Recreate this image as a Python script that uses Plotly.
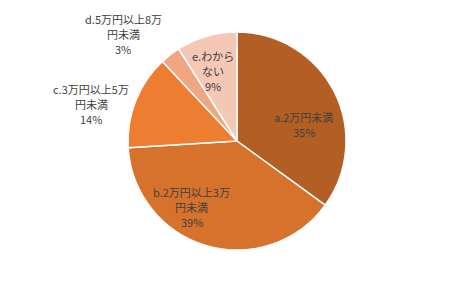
import numpy as np
import plotly.graph_objects as go

labels = ["a.2万円未満", "b.2万円以上3万<br>円未満", "c.3万円以上5万<br>円未満", "d.5万円以上8万<br>円未満", "e.わから<br>ない"]
values = [35, 39, 14, 3, 9]
colors = ["#B35E22", "#D6722C", "#EC7D31", "#F0A683", "#F5C7B5"]

# label placement style: radial factor (of radius) and angular nudge (deg)
label_radius = [0.63, 0.737, 1.379, 1.434, 0.676]
label_nudge = [13.0, 18.0, -7.5, -9.0, -3.0]
line_gap = 15  # px between text lines

W, H = 474, 284
cx, cy, R = 237, 141, 109  # pixel center / radius of the pie

fig = go.Figure(go.Pie(
    labels=labels,
    values=values,
    sort=False,
    direction="clockwise",
    rotation=0,
    marker=dict(colors=colors, line=dict(color="white", width=1.5)),
    textinfo="none",
    hoverinfo="skip",
    showlegend=False,
    domain=dict(x=[(cx - R) / W, (cx + R) / W], y=[(H - cy - R) / H, (H - cy + R) / H]),
))

vals = np.array(values, dtype=float)
cum = np.cumsum(vals) - vals / 2
mid_deg = cum / vals.sum() * 360.0
for lab, v, m, f, d in zip(labels, values, mid_deg, label_radius, label_nudge):
    th = np.deg2rad(m + d)
    px = cx + f * R * np.sin(th)
    py = cy - f * R * np.cos(th)
    lines = lab.split("<br>") + [f"{v}%"]
    n = len(lines)
    for i, ln in enumerate(lines):
        ly = py + (i - (n - 1) / 2) * line_gap
        fig.add_annotation(
            x=px / W, y=1 - ly / H, xref="paper", yref="paper",
            text=ln, showarrow=False,
            xanchor="center", yanchor="middle", align="center",
            font=dict(family="Noto Sans CJK JP", size=11, color="#404040"),
        )

fig.update_layout(
    width=W, height=H,
    margin=dict(l=0, r=0, t=0, b=0),
    paper_bgcolor="white",
)

fig.write_html("out.html")
